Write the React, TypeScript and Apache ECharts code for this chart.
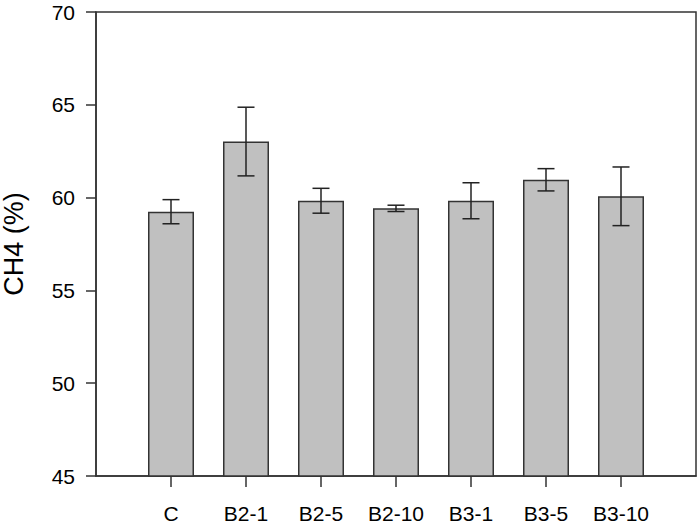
import React, { useEffect, useRef } from "react";
import * as echarts from "echarts";

const categories = ["C", "B2-1", "B2-5", "B2-10", "B3-1", "B3-5", "B3-10"];
const means = [59.24, 63.02, 59.83, 59.42, 59.83, 60.96, 60.07];
const errors = [0.65, 1.85, 0.67, 0.17, 0.97, 0.6, 1.58];
const yTicks = { min: 45, max: 70, interval: 5 };

export default function App() {
  const ref = useRef<HTMLDivElement>(null);
  useEffect(() => {
    if (!ref.current) return;
    const chart = echarts.init(ref.current, null, { renderer: "svg" });
    const axisData = ["", ...categories, ""];
    const barData = means.map((v, i) => [i + 1, v]);
    const errData = means.map((v, i) => [i + 1, v - errors[i], v + errors[i]]);
    const font = "Liberation Sans, Arial, sans-serif";
    chart.setOption({
      animation: false,
      grid: {
        left: 96,
        right: 3,
        top: 12,
        bottom: 48,
        containLabel: false,
        outerBoundsMode: "none",
        show: true,
        borderColor: "#333",
        borderWidth: 1.5,
        backgroundColor: "transparent",
      },
      xAxis: {
        type: "category",
        data: axisData,
        boundaryGap: false,
        axisLine: { show: true, lineStyle: { color: "#333", width: 1.5 } },
        axisTick: {
          show: true,
          length: 11,
          inside: false,
          interval: (idx: number, val: string) => val !== "",
          lineStyle: { color: "#333", width: 1.5 },
        },
        axisLabel: {
          show: true,
          interval: (idx: number, val: string) => val !== "",
          margin: 27,
          fontSize: 21,
          color: "#000",
          fontFamily: font,
        },
        splitLine: { show: false },
      },
      yAxis: {
        type: "value",
        min: yTicks.min,
        max: yTicks.max,
        interval: yTicks.interval,
        name: "CH4 (%)",
        nameLocation: "middle",
        nameGap: 69,
        nameTextStyle: { fontSize: 27, color: "#000", fontFamily: font },
        axisLine: { show: true, lineStyle: { color: "#333", width: 1.5 } },
        axisTick: { show: true, length: 10, lineStyle: { color: "#333", width: 1.5 } },
        axisLabel: { margin: 21, fontSize: 21, lineHeight: 18, color: "#000", fontFamily: font },
        splitLine: { show: false },
      },
      series: [
        {
          type: "bar",
          data: barData,
          barWidth: 46,
          itemStyle: { color: "#c0c0c0", borderColor: "#333", borderWidth: 1.5 },
          z: 2,
        },
        {
          type: "custom",
          data: errData,
          z: 3,
          renderItem: (params: any, api: any) => {
            const x = api.value(0);
            const lo = api.coord([x, api.value(1)]);
            const hi = api.coord([x, api.value(2)]);
            const hw = 8.5;
            const style = { stroke: "#222", lineWidth: 1.5 };
            return {
              type: "group",
              children: [
                { type: "line", shape: { x1: hi[0], y1: hi[1], x2: lo[0], y2: lo[1] }, style },
                { type: "line", shape: { x1: hi[0] - hw, y1: hi[1], x2: hi[0] + hw, y2: hi[1] }, style },
                { type: "line", shape: { x1: lo[0] - hw, y1: lo[1], x2: lo[0] + hw, y2: lo[1] }, style },
              ],
            };
          },
        },
      ],
    });
    return () => chart.dispose();
  }, []);
  return (
    <div
      ref={ref}
      style={{ position: "fixed", left: 0, top: 0, width: 699, height: 524, background: "#fff" }}
    />
  );
}
